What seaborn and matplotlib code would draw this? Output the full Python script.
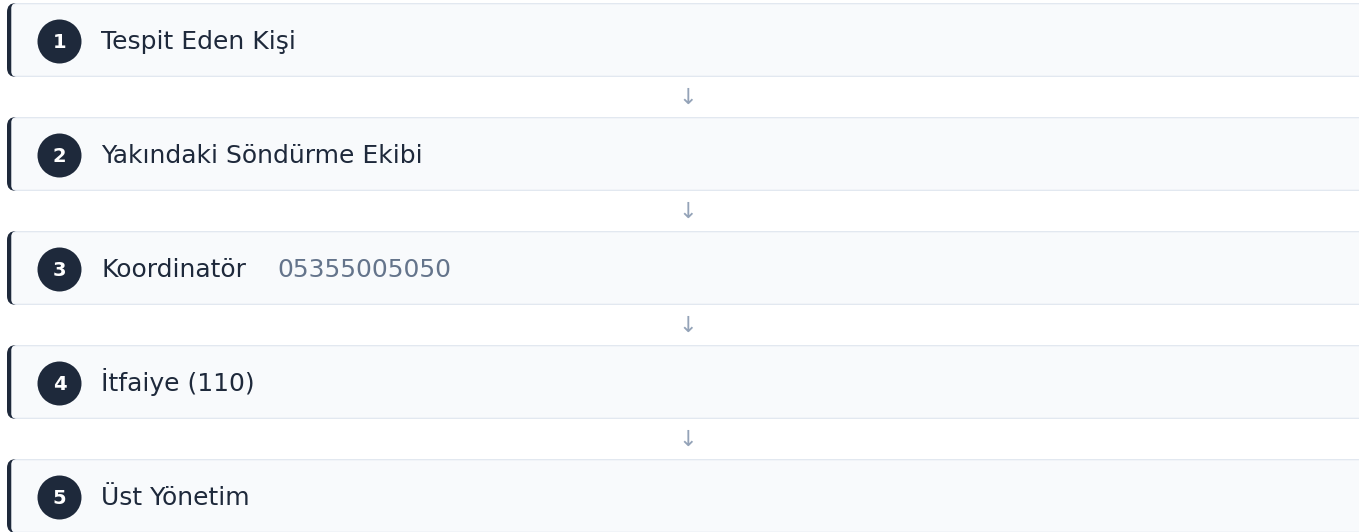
import matplotlib
matplotlib.use("Agg")
import matplotlib.pyplot as plt
from matplotlib.patches import FancyBboxPatch
import seaborn as sns
import pandas as pd

# ---- data ----
step_numbers = [1, 2, 3, 4, 5]
step_labels = ["Tespit Eden Kişi", "Yakındaki Söndürme Ekibi", "Koordinatör", "İtfaiye (110)", "Üst Yönetim"]
step_notes = ["", "", "05355005050", "", ""]

sns.set_theme(style="white")
plt.rcParams['font.family'] = ['DejaVu Sans']

W, H = 1359, 532
fig = plt.figure(figsize=(W / 100, H / 100), dpi=100)
fig.patch.set_facecolor("white")
ax = fig.add_axes([0, 0, 1, 1])

DARK = "#1e293b"
FILL = "#f8fafc"
BORDER = "#e2e8f0"
MUTED = "#64748b"
ARROW = "#94a3b8"

pitch = 114
box_h = 74
top0 = 3
left = 7

centers = []
for i, n in enumerate(step_numbers):
    top = top0 + i * pitch
    cy = top + box_h / 2
    centers.append(cy + 1.5)
    ax.add_patch(FancyBboxPatch((left, top), 1500, box_h,
                                boxstyle="round,pad=0,rounding_size=9",
                                fc=DARK, ec="none", zorder=1))
    ax.add_patch(FancyBboxPatch((left + 4.5, top), 1500, box_h,
                                boxstyle="round,pad=0,rounding_size=5",
                                fc=BORDER, ec="none", zorder=2))
    ax.add_patch(FancyBboxPatch((left + 4.5, top + 1.3), 1500, box_h - 2.6,
                                boxstyle="round,pad=0,rounding_size=4",
                                fc=FILL, ec="none", zorder=3))
    ax.text(101, cy + 9.3, step_labels[i], fontsize=18, color=DARK,
            va="baseline", ha="left", zorder=6)
    if step_notes[i]:
        ax.text(277, cy + 9.3, step_notes[i], fontsize=18, color=MUTED,
                va="baseline", ha="left", zorder=6)
    if i < len(step_numbers) - 1:
        ax.text(688, top + box_h + 21, "↓", fontsize=16, color=ARROW,
                va="center", ha="center", zorder=6)

df = pd.DataFrame({"x": [59.5] * len(step_numbers), "y": centers, "n": step_numbers})
sns.scatterplot(data=df, x="x", y="y", s=(44 * 0.72) ** 2, color=DARK,
                edgecolor="none", linewidth=0, ax=ax, zorder=5, legend=False)
ax.set_xlim(0, W)
ax.set_ylim(H, 0)
ax.axis("off")
for _, r in df.iterrows():
    ax.text(r["x"], r["y"] + 7, str(int(r["n"])), fontsize=14, fontweight="bold",
            color="white", ha="center", va="baseline", zorder=6)

fig.savefig("out.png", dpi=100, facecolor="white")
